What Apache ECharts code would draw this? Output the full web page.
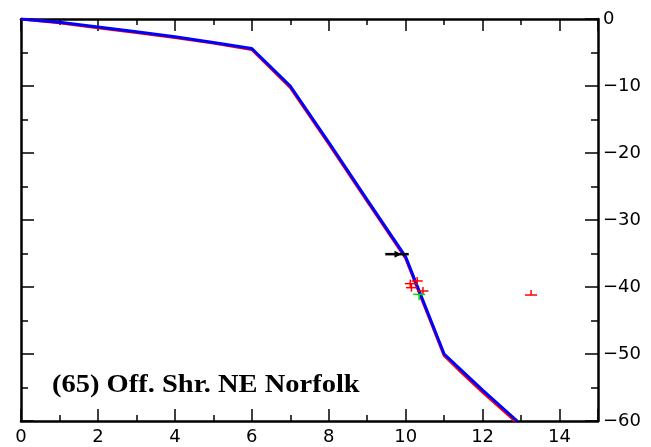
<!DOCTYPE html>
<html><head><meta charset="utf-8">
<script src="https://cdn.jsdelivr.net/npm/echarts@6/dist/echarts.min.js"></script>
<style>html,body{margin:0;padding:0;background:#fff}#c{width:651px;height:447px}</style>
</head><body><div id="c"></div>
<script>
// Profile lines (distance, depth)
const blueLine = [[0,0],[1,-0.5],[2,-1.2],[3,-1.9],[4,-2.65],[5,-3.5],[6,-4.4],[7,-10],[8,-18.4],[9,-27],[10,-35.5],[11,-50],[11.5,-52.7],[12,-55.4],[12.9,-60]];
const redLine  = [[0,0],[1,-0.55],[2,-1.3],[3,-2.0],[4,-2.75],[5,-3.6],[6,-4.55],[7,-10.2],[8,-18.6],[9,-27.2],[10,-35.7],[11,-50.2],[11.5,-53],[12,-55.7],[12.85,-60]];
// Observation markers
const redCrosses = [[10.12,-39.5],[10.3,-39.1],[10.15,-40.1],[10.45,-40.6]];
const greenCross = [[10.35,-41.1]];
const redT = [[13.26,-41.2]];
const blackArrow = [[9.47,-35.1,10.08,9.84]];
const xTicks = [0,2,4,6,8,10,12,14];
const yTicks = [0,-10,-20,-30,-40,-50,-60];
const titleText = '(65) Off. Shr. NE Norfolk';

const chart = echarts.init(document.getElementById('c'));
function crossSeries(data, color, hw, up, down){
  return {type:'custom', data:data, z:5, clip:false,
    renderItem:function(params, api){
      const p = api.coord([api.value(0), api.value(1)]);
      return {type:'group', children:[
        {type:'line', shape:{x1:p[0]-hw,y1:p[1],x2:p[0]+hw,y2:p[1]}, style:{stroke:color,lineWidth:1.5}},
        {type:'line', shape:{x1:p[0],y1:p[1]-up,x2:p[0],y2:p[1]+down}, style:{stroke:color,lineWidth:1.5}}
      ]};
    }};
}
const axisFont = {fontFamily:'DejaVu Sans', fontSize:18, color:'#000'};
const lineStyleAxis = {color:'#000', width:2.5};
const tickStyle = {color:'#000', width:1.5};
chart.setOption({
  animation:false,
  grid:{left:21, right:53, top:19, bottom:26},
  xAxis:[
    {type:'value', min:0, max:15, interval:2, position:'bottom',
     axisLine:{onZero:false, lineStyle:lineStyleAxis}, splitLine:{show:false},
     axisTick:{inside:true, length:12, lineStyle:tickStyle},
     minorTick:{show:true, splitNumber:2, length:6, lineStyle:tickStyle},
     axisLabel:Object.assign({margin:7, formatter:function(v){return xTicks.indexOf(v)>=0?String(v):'';}}, axisFont)},
    {type:'value', min:0, max:15, interval:2, position:'top',
     axisLine:{onZero:false, lineStyle:lineStyleAxis}, splitLine:{show:false},
     axisTick:{inside:true, length:12, lineStyle:tickStyle},
     minorTick:{show:true, splitNumber:2, length:6, lineStyle:tickStyle},
     axisLabel:{show:false}}
  ],
  yAxis:[
    {type:'value', min:-60, max:0, interval:10, position:'right',
     axisLine:{onZero:false, lineStyle:lineStyleAxis}, splitLine:{show:false},
     axisTick:{inside:true, length:13, lineStyle:tickStyle},
     minorTick:{show:true, splitNumber:2, length:7, lineStyle:tickStyle},
     axisLabel:Object.assign({margin:5, formatter:function(v){return yTicks.indexOf(v)>=0?(v<0?'\u2212'+(-v):String(v)):'';}}, axisFont)},
    {type:'value', min:-60, max:0, interval:10, position:'left',
     axisLine:{onZero:false, lineStyle:lineStyleAxis}, splitLine:{show:false},
     axisTick:{inside:true, length:13, lineStyle:tickStyle},
     minorTick:{show:true, splitNumber:2, length:7, lineStyle:tickStyle},
     axisLabel:{show:false}}
  ],
  series:[
    {type:'line', data:redLine, symbol:'none', lineStyle:{color:'#ff0000', width:3}, z:2},
    {type:'line', data:blueLine, symbol:'none', lineStyle:{color:'#0000ff', width:3}, z:3},
    crossSeries(redCrosses, '#ff0000', 5.5, 4, 4),
    crossSeries(greenCross, '#00dd00', 6, 0, 6),
    crossSeries(redT, '#ff0000', 6, 5, 0),
    {type:'custom', data:blackArrow, z:6, clip:false,
     renderItem:function(params, api){
       const a = api.coord([api.value(0), api.value(1)]);
       const b = api.coord([api.value(2), api.value(1)]);
       const h = api.coord([api.value(3), api.value(1)]);
       return {type:'group', children:[
         {type:'line', shape:{x1:a[0],y1:a[1],x2:b[0],y2:b[1]}, style:{stroke:'#000',lineWidth:2.5}},
         {type:'polygon', shape:{points:[[h[0]+2,h[1]],[h[0]-5,h[1]-3.5],[h[0]-5,h[1]+3.5]]}, style:{fill:'#000'}}
       ]};
     }}
  ],
  graphic:[{type:'text', x:52, y:373, scaleX:1.14, style:{text:titleText, font:'bold 25px "Liberation Serif"', fill:'#000'}}]
});
</script></body></html>
